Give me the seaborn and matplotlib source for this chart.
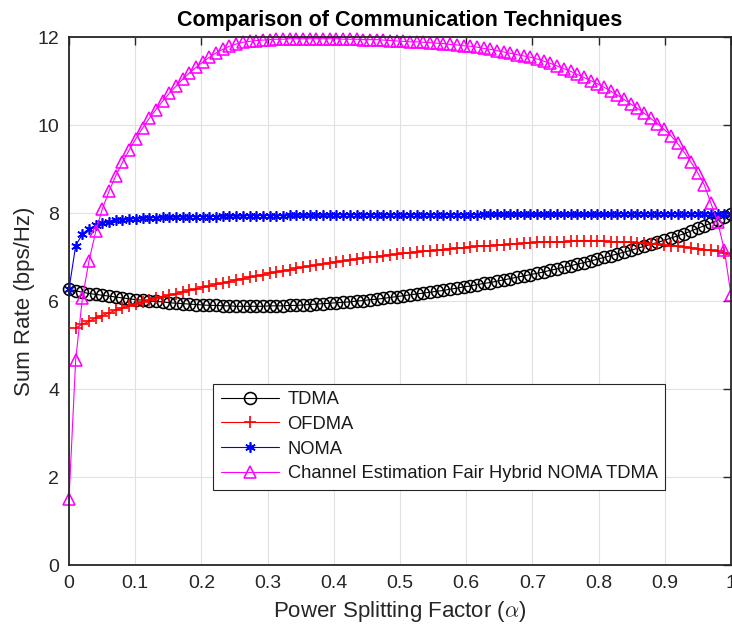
import numpy as np
import pandas as pd
import seaborn as sns
import matplotlib
matplotlib.use("Agg")
import matplotlib.pyplot as plt

# ---------------- data ----------------
alpha = np.linspace(0, 1, 100)

tdma = [6.27, 6.23, 6.20, 6.17, 6.15, 6.13, 6.11, 6.09, 6.07, 6.05,
        6.03, 6.02, 6.00, 5.99, 5.98, 5.96, 5.95, 5.94, 5.93, 5.92,
        5.91, 5.90, 5.90, 5.89, 5.89, 5.88, 5.88, 5.88, 5.88, 5.88,
        5.89, 5.89, 5.89, 5.90, 5.90, 5.91, 5.92, 5.93, 5.94, 5.95,
        5.96, 5.97, 5.98, 6.00, 6.01, 6.03, 6.04, 6.06, 6.08, 6.10,
        6.12, 6.14, 6.16, 6.18, 6.20, 6.22, 6.24, 6.27, 6.29, 6.32,
        6.34, 6.37, 6.40, 6.42, 6.45, 6.48, 6.51, 6.54, 6.57, 6.60,
        6.63, 6.66, 6.70, 6.73, 6.77, 6.80, 6.84, 6.87, 6.91, 6.95,
        6.99, 7.03, 7.07, 7.11, 7.15, 7.20, 7.24, 7.29, 7.33, 7.38,
        7.43, 7.48, 7.53, 7.59, 7.65, 7.71, 7.77, 7.84, 7.91, 7.98]

ofdma = [None, 5.39, 5.47, 5.54, 5.61, 5.67, 5.73, 5.79, 5.84, 5.89,
         5.94, 5.98, 6.02, 6.06, 6.10, 6.13, 6.17, 6.20, 6.24, 6.27,
         6.31, 6.34, 6.38, 6.41, 6.44, 6.48, 6.51, 6.54, 6.57, 6.60,
         6.63, 6.66, 6.69, 6.71, 6.74, 6.77, 6.79, 6.82, 6.84, 6.87,
         6.89, 6.91, 6.93, 6.95, 6.97, 6.99, 7.01, 7.03, 7.05, 7.06,
         7.08, 7.10, 7.11, 7.13, 7.14, 7.16, 7.17, 7.19, 7.20, 7.21,
         7.23, 7.24, 7.25, 7.26, 7.27, 7.28, 7.29, 7.30, 7.31, 7.32,
         7.33, 7.33, 7.34, 7.35, 7.35, 7.36, 7.36, 7.36, 7.36, 7.36,
         7.36, 7.35, 7.35, 7.34, 7.33, 7.32, 7.31, 7.30, 7.29, 7.27,
         7.26, 7.24, 7.23, 7.21, 7.19, 7.17, 7.15, 7.13, 7.10, 7.07]

noma = [6.27, 7.26, 7.52, 7.64, 7.72, 7.77, 7.80, 7.83, 7.85, 7.86,
        7.87, 7.88, 7.89, 7.89, 7.90, 7.90, 7.91, 7.91, 7.91, 7.92,
        7.92, 7.92, 7.92, 7.93, 7.93, 7.93, 7.93, 7.94, 7.94, 7.94,
        7.94, 7.94, 7.94, 7.95, 7.95, 7.95, 7.95, 7.95, 7.95, 7.95,
        7.96, 7.96, 7.96, 7.96, 7.96, 7.96, 7.96, 7.96, 7.96, 7.96,
        7.96, 7.96, 7.96, 7.96, 7.96, 7.96, 7.96, 7.96, 7.96, 7.96,
        7.96, 7.96, 7.97, 7.97, 7.97, 7.97, 7.97, 7.97, 7.97, 7.97,
        7.97, 7.97, 7.97, 7.97, 7.97, 7.97, 7.97, 7.97, 7.97, 7.97,
        7.97, 7.97, 7.98, 7.98, 7.98, 7.98, 7.98, 7.98, 7.98, 7.98,
        7.98, 7.98, 7.98, 7.98, 7.98, 7.98, 7.98, 7.98, 7.98, 7.98]

hybrid = [1.50, 4.67, 6.06, 6.92, 7.58, 8.10, 8.50, 8.85, 9.15, 9.43,
          9.69, 9.93, 10.15, 10.35, 10.54, 10.72, 10.88, 11.04, 11.18, 11.31,
          11.43, 11.54, 11.64, 11.72, 11.79, 11.84, 11.88, 11.90, 11.92, 11.93,
          11.94, 11.95, 11.95, 11.96, 11.96, 11.96, 11.96, 11.96, 11.96, 11.96,
          11.96, 11.95, 11.95, 11.95, 11.94, 11.94, 11.94, 11.93, 11.92, 11.91,
          11.90, 11.89, 11.89, 11.88, 11.87, 11.86, 11.85, 11.83, 11.82, 11.80,
          11.79, 11.77, 11.74, 11.72, 11.69, 11.66, 11.63, 11.60, 11.57, 11.54,
          11.50, 11.45, 11.40, 11.34, 11.28, 11.22, 11.15, 11.08, 11.01, 10.94,
          10.86, 10.77, 10.68, 10.58, 10.48, 10.38, 10.27, 10.15, 10.03, 9.90,
          9.76, 9.58, 9.38, 9.16, 8.92, 8.64, 8.22, 7.80, 7.16, 6.14]

series_names = ["TDMA", "OFDMA", "NOMA", "Channel Estimation Fair Hybrid NOMA TDMA"]
x_ticks = [0, 0.1, 0.2, 0.3, 0.4, 0.5, 0.6, 0.7, 0.8, 0.9, 1]
x_tick_labels = ["0", "0.1", "0.2", "0.3", "0.4", "0.5", "0.6", "0.7", "0.8", "0.9", "1"]
y_ticks = [0, 2, 4, 6, 8, 10, 12]

# ---------------- styling ----------------
sns.set_theme(style="white")
plt.rcParams["font.family"] = ["Liberation Sans", "DejaVu Sans"]
plt.rcParams["mathtext.fontset"] = "cm"
AX = "#262626"

df = pd.DataFrame({
    "alpha": alpha,
    "TDMA": np.array(tdma, dtype=float),
    "OFDMA": np.array([np.nan if v is None else v for v in ofdma], dtype=float),
    "NOMA": np.array(noma, dtype=float),
    "Hybrid": np.array(hybrid, dtype=float),
})

fig = plt.figure(figsize=(7.32, 6.32), dpi=100)
ax = fig.add_axes([69 / 732, 67 / 632, 662 / 732, 528 / 632])

styles = [
    ("TDMA", dict(color="black", marker="o", markersize=8.6, markerfacecolor="none",
                  markeredgecolor="black", markeredgewidth=1.15)),
    ("OFDMA", dict(color="#ff0000", marker="+", markersize=8.0, markerfacecolor="none",
                   markeredgecolor="#ff0000", markeredgewidth=1.2)),
    ("NOMA", dict(color="#0000ff", marker=(6, 2, 0), markersize=7.5, markerfacecolor="none",
                  markeredgecolor="#0000ff", markeredgewidth=1.2)),
    ("Hybrid", dict(color="#ff00ff", marker="^", markersize=8.8, markerfacecolor="none",
                    markeredgecolor="#ff00ff", markeredgewidth=1.15)),
]

handles = []
for (col, kw), name in zip(styles, series_names):
    sub = df[["alpha", col]].dropna()
    sns.lineplot(data=sub, x="alpha", y=col, ax=ax, estimator=None, sort=False,
                 linewidth=0.8, legend=False, clip_on=False, **kw)
    handles.append(ax.lines[-1])

ax.set_xlim(0, 1)
ax.set_ylim(0, 12)
ax.set_xticks(x_ticks)
ax.set_xticklabels(x_tick_labels)
ax.set_yticks(y_ticks)
ax.grid(True, color="#e1e1e1", linewidth=0.8)
ax.set_axisbelow(True)
for s in ax.spines.values():
    s.set_color(AX)
    s.set_linewidth(1.3)
ax.tick_params(direction="in", length=6, width=1.0, colors=AX, labelcolor=AX,
               top=True, right=True, labelsize=14, pad=7)

ax.set_xlabel(r"Power Splitting Factor ($\alpha$)", fontsize=16, color=AX, labelpad=5)
ax.set_ylabel("Sum Rate (bps/Hz)", fontsize=16, color=AX, labelpad=2)
ax.set_title("Comparison of Communication Techniques", fontsize=15.5,
             fontweight="bold", color="black", pad=8)

leg = fig.legend(handles, series_names, loc="lower left",
                 bbox_to_anchor=(213 / 732, (632 - 490) / 632),
                 bbox_transform=fig.transFigure, fontsize=13.2, frameon=True,
                 fancybox=False, framealpha=1, edgecolor=AX, borderpad=0.42,
                 labelspacing=0.42, handlelength=3.2, handletextpad=0.45,
                 borderaxespad=0)
leg.get_frame().set_linewidth(0.8)
for t in leg.get_texts():
    t.set_color("#1a1a1a")

fig.savefig("out.png", dpi=100)
